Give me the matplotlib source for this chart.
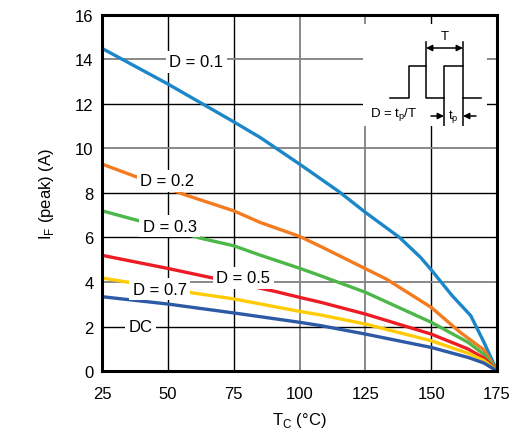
import matplotlib
matplotlib.use("Agg")
import matplotlib.pyplot as plt

plt.rcParams['font.family'] = ['Liberation Sans', 'DejaVu Sans']
plt.rcParams['mathtext.fontset'] = 'custom'
plt.rcParams['mathtext.rm'] = 'Liberation Sans'

# Data
tc_01 = [25, 50, 75, 85, 100, 115, 125, 138, 146, 150, 158, 165, 170, 175]
if_01 = [14.5, 12.9, 11.2, 10.5, 9.3, 8.06, 7.13, 6.0, 5.1, 4.55, 3.38, 2.49, 1.3, 0.0]

tc_02 = [25, 50, 57, 75, 85, 100, 108, 125, 133, 150, 161, 170, 175]
if_02 = [9.3, 8.2, 7.9, 7.2, 6.68, 6.05, 5.6, 4.6, 4.13, 2.86, 1.74, 0.95, 0.0]

tc_03 = [25, 50, 62, 75, 85, 100, 108, 125, 150, 164, 170, 175]
if_03 = [7.2, 6.4, 5.98, 5.63, 5.21, 4.62, 4.28, 3.54, 2.19, 1.29, 0.75, 0.0]

tc_05 = [25, 50, 75, 91, 100, 108, 125, 150, 164, 170, 175]
if_05 = [5.2, 4.61, 3.98, 3.57, 3.31, 3.09, 2.56, 1.66, 0.99, 0.58, 0.0]

tc_07 = [25, 50, 60, 75, 100, 108, 125, 150, 164, 170, 175]
if_07 = [4.18, 3.7, 3.5, 3.24, 2.68, 2.52, 2.11, 1.36, 0.8, 0.47, 0.0]

tc_dc = [25, 50, 75, 100, 108, 125, 150, 164, 170, 175]
if_dc = [3.34, 3.01, 2.61, 2.19, 2.04, 1.66, 1.06, 0.61, 0.36, 0.0]

series = [
    (tc_01, if_01, '#1b87c9', 'D = 0.1', (60.7, 13.9)),
    (tc_02, if_02, '#f47b20', 'D = 0.2', (49.8, 8.55)),
    (tc_03, if_03, '#4db749', 'D = 0.3', (50.7, 6.5)),
    (tc_05, if_05, '#ed1c24', 'D = 0.5', (78.6, 4.18)),
    (tc_07, if_07, '#ffcb05', 'D = 0.7', (47.0, 3.68)),
    (tc_dc, if_dc, '#2d5aa5', 'DC', (39.8, 2.02)),
]

x_ticks = [25, 50, 75, 100, 125, 150, 175]
y_ticks = [0, 2, 4, 6, 8, 10, 12, 14, 16]
gray_x = [100, 125]
black_x = [50, 75, 150]
gray_y = [4, 10, 14]
black_y = [2, 6, 8, 12]

fig = plt.figure(figsize=(5.14, 4.39), dpi=100)
ax = fig.add_axes([0.1984, 0.1526, 0.7686, 0.811])
ax.set_xlim(25, 175)
ax.set_ylim(0, 16)

for gx in gray_x:
    ax.axvline(gx, color='#808080', lw=1.3, zorder=1)
for gx in black_x:
    ax.axvline(gx, color='black', lw=1.0, zorder=1)
for gy in gray_y:
    ax.axhline(gy, color='#808080', lw=1.3, zorder=1)
for gy in black_y:
    ax.axhline(gy, color='black', lw=1.0, zorder=1)

for tc, iv, col, lab, pos in series:
    ax.plot(tc, iv, color=col, lw=2.4, zorder=3, solid_capstyle='butt', solid_joinstyle='round')
    ax.text(pos[0], pos[1], lab, fontsize=12, ha='center', va='center', zorder=5,
            bbox=dict(facecolor='white', edgecolor='none', pad=2.5))

ax.set_xticks(x_ticks)
ax.set_yticks(y_ticks)
ax.tick_params(length=0, labelsize=12)
ax.tick_params(axis='x', pad=11)
ax.tick_params(axis='y', pad=6)
for s in ax.spines.values():
    s.set_linewidth(2.2)
    s.set_zorder(6)

ax.set_xlabel(r'T$_\mathregular{C}$ (°C)', fontsize=12, labelpad=6)
ax.set_ylabel(r'I$_\mathregular{F}$ (peak) (A)', fontsize=12, labelpad=14)

# Inset diagram (pixel-like local coordinates)
ins = fig.add_axes([(363) / 514, 1 - 127 / 439, (487 - 363) / 514, (127 - 25) / 439])
ins.set_xlim(363, 487)
ins.set_ylim(127, 25)
ins.set_zorder(4)
ins.axis('off')
ins.add_patch(plt.Rectangle((363, 25), 124, 102, facecolor='white', edgecolor='none', zorder=0))
wx = [390, 409, 409, 426, 426, 444, 444, 463, 463, 481]
wy = [99, 99, 67, 67, 99, 99, 67, 67, 99, 99]
ins.plot(wx, wy, color='black', lw=1.1)
ins.plot([426, 426], [43, 67], color='black', lw=1.1)
ins.plot([463, 463], [43, 67], color='black', lw=1.1)
ins.plot([444, 444], [99, 127], color='black', lw=1.1)
ins.plot([463, 463], [99, 127], color='black', lw=1.1)
ins.annotate('', xy=(426, 49), xytext=(463, 49),
             arrowprops=dict(arrowstyle='<|-|>', color='black', lw=1.1, mutation_scale=9, shrinkA=0, shrinkB=0))
ins.annotate('', xy=(444, 117), xytext=(431, 117),
             arrowprops=dict(arrowstyle='-|>', color='black', lw=1.1, mutation_scale=9, shrinkA=0, shrinkB=0))
ins.annotate('', xy=(463, 117), xytext=(476, 117),
             arrowprops=dict(arrowstyle='-|>', color='black', lw=1.1, mutation_scale=9, shrinkA=0, shrinkB=0))
ins.text(444.5, 37, 'T', fontsize=9.5, ha='center', va='center')
ins.text(453.5, 117, r't$_\mathregular{p}$', fontsize=9.5, ha='center', va='center')
ins.text(394, 115, r'D = t$_\mathregular{p}$/T', fontsize=9.5, ha='center', va='center')

fig.savefig('out.png', dpi=100)
